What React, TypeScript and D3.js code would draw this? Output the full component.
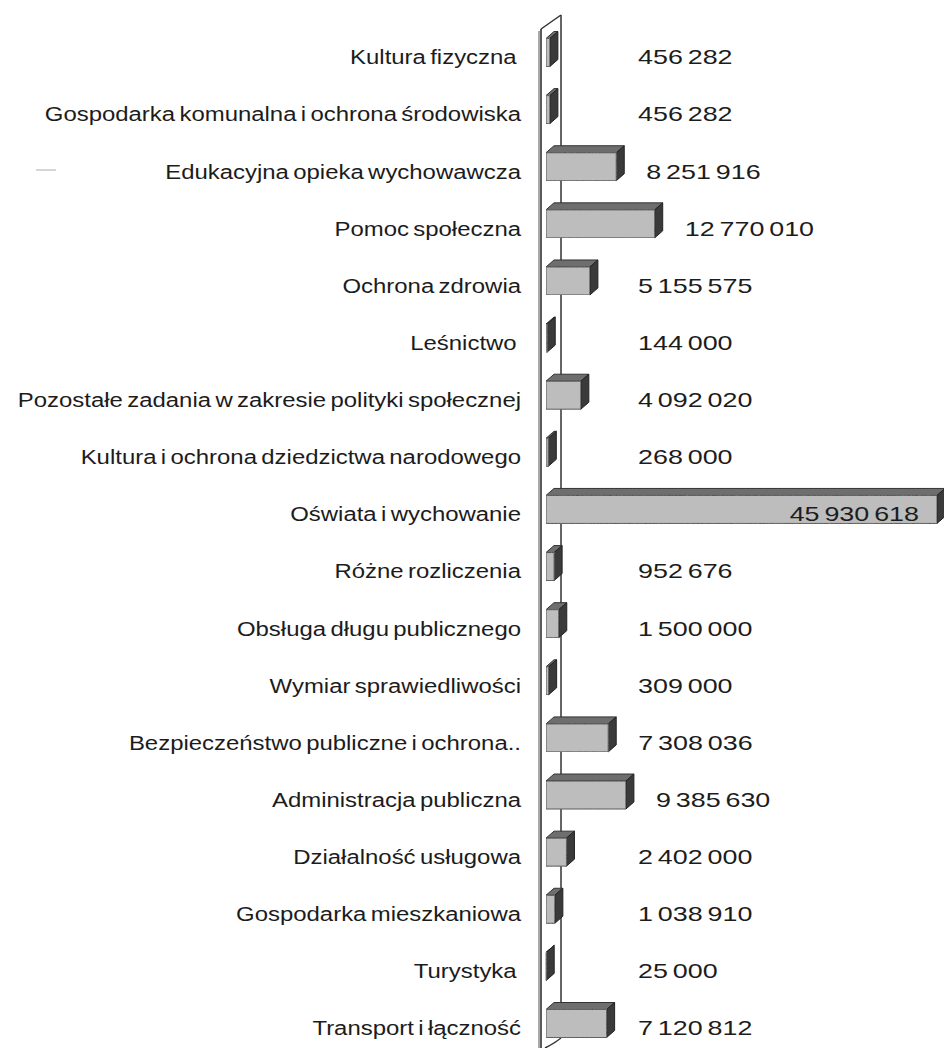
import React from 'react';
import * as d3 from 'd3';

const categories = [
  'Kultura fizyczna ',
  'Gospodarka komunalna i ochrona środowiska',
  'Edukacyjna opieka wychowawcza',
  'Pomoc społeczna',
  'Ochrona zdrowia',
  'Leśnictwo ',
  'Pozostałe zadania w zakresie polityki społecznej',
  'Kultura i ochrona dziedzictwa narodowego',
  'Oświata i wychowanie',
  'Różne rozliczenia',
  'Obsługa długu publicznego',
  'Wymiar sprawiedliwości',
  'Bezpieczeństwo publiczne i ochrona..',
  'Administracja publiczna',
  'Działalność usługowa',
  'Gospodarka mieszkaniowa',
  'Turystyka ',
  'Transport i łączność',
];

const values = [
  456282, 456282, 8251916, 12770010, 5155575, 144000, 4092020, 268000, 45930618,
  952676, 1500000, 309000, 7308036, 9385630, 2402000, 1038910, 25000, 7120812,
];

const W = 944;
const H = 1048;
const depthX = 8;
const depthY = 7;
const fontSize = 21;
const labelStretch = 1.14;
const valueStretch = 1.28;

const fmt = (v: number) => d3.format(',')(v).replace(/,/g, ' ');

export default function App() {
  const x = d3.scaleLinear().domain([0, d3.max(values) as number]).range([546, 937]);
  const y = d3.scalePoint<string>().domain(categories).range([57, 1028]);
  const wallFront = 541;
  const wallBack = 561;

  const textStyle: React.CSSProperties = {
    fontFamily: 'Arial, "Liberation Sans", sans-serif',
    fontSize,
    fill: '#1c1c1c',
    whiteSpace: 'pre',
    wordSpacing: -2,
  };

  return (
    <svg width={W} height={H} style={{ display: 'block', position: 'absolute', left: 0, top: 0 }}>
      <defs>
        <filter id="grain" x="0" y="0" width="100%" height="100%">
          <feTurbulence type="fractalNoise" baseFrequency="0.9" numOctaves="2" seed="3" result="n" />
          <feColorMatrix in="n" type="matrix"
            values="0 0 0 0 0.5  0 0 0 0 0.5  0 0 0 0 0.5  0 0 0 0.35 0" result="g" />
          <feComposite in="g" in2="SourceGraphic" operator="atop" />
        </filter>
      </defs>
      <rect width={W} height={H} fill="#fff" />
      {/* scan artifact */}
      <line x1={36} x2={56} y1={170} y2={170} stroke="#c8c8c8" strokeWidth={1.5} />

      {/* wall */}
      <line x1={wallBack} x2={wallBack} y1={15} y2={1038} stroke="#333" strokeWidth={1.5} />
      <line x1={wallFront} x2={wallBack} y1={29} y2={15} stroke="#333" strokeWidth={1.5} />
      <path d={`M${wallBack},1038 Q${wallBack - 6},1043 ${wallFront + 4},${H}`} fill="none" stroke="#333" strokeWidth={1.5} />
      <line x1={wallFront} x2={wallFront} y1={29} y2={H} stroke="#222" strokeWidth={1.5} />
      <line x1={wallFront - 2} x2={wallFront - 2} y1={31} y2={H} stroke="#555" strokeWidth={1} />

      {categories.map((c, i) => {
        const v = values[i];
        const cy = y(c) as number;
        const x0 = x(0);
        const x1 = x(v);
        const top = cy - 18.5;
        const bot = cy + 9.5;
        const topFace = `M${x0},${top} L${x0 + depthX},${top - depthY} L${x1 + depthX},${top - depthY} L${x1},${top} Z`;
        const sideFace = `M${x1},${top} L${x1 + depthX},${top - depthY} L${x1 + depthX},${bot - depthY} L${x1},${bot} Z`;
        const inside = x1 > 800;
        const labelX = inside ? x1 - 18 : Math.max(x1 + depthX + 22, 638);
        return (
          <g key={c}>
            <path d={topFace} fill="#6e6e6e" stroke="#333" strokeWidth={1} />
            <path d={sideFace} fill="#3a3a3a" stroke="#222" strokeWidth={1} />
            <rect x={x0} y={top} width={Math.max(x1 - x0, 0.5)} height={bot - top}
              fill="#bdbdbd" stroke="#3a3a3a" strokeWidth={1} filter="url(#grain)" />
            <g transform={`translate(521,${cy}) scale(${labelStretch},1)`}>
              <text textAnchor="end" dy="0.35em" style={textStyle}>{c}</text>
            </g>
            <g transform={`translate(${labelX},${cy}) scale(${valueStretch},1)`}>
              <text textAnchor={inside ? 'end' : 'start'} dy="0.35em" style={textStyle}>{fmt(v)}</text>
            </g>
          </g>
        );
      })}
    </svg>
  );
}
